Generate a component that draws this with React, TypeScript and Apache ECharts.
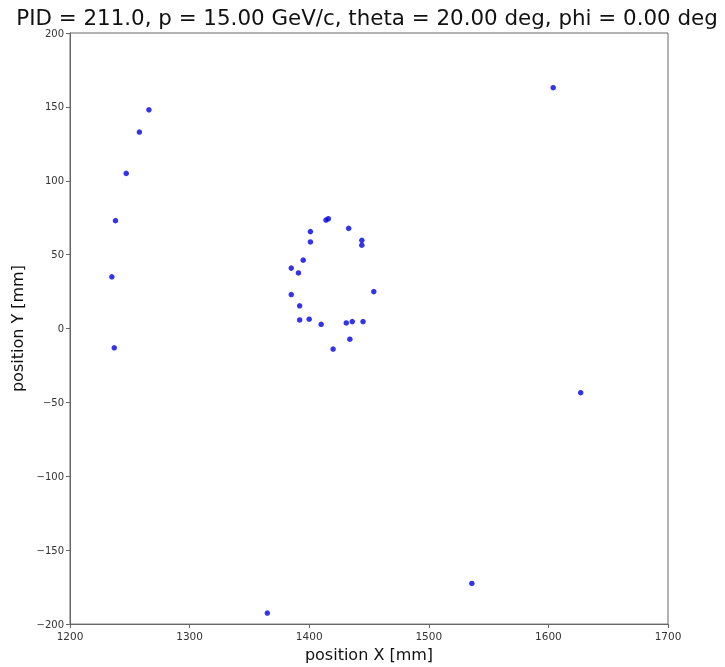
import React, { useEffect, useRef } from "react";
import * as echarts from "echarts";

const hitX = [1266, 1258, 1247, 1238, 1235, 1237,
  1414, 1416, 1433, 1401, 1401, 1444, 1444, 1395, 1385, 1391, 1454, 1385, 1392, 1392, 1400, 1410, 1431, 1436, 1445, 1434, 1420,
  1604, 1627, 1536, 1365];
const hitY = [148, 133, 105, 73, 35, -13,
  73.4, 74.3, 67.8, 65.6, 58.6, 59.7, 56.4, 46.3, 40.9, 37.6, 25, 23, 15.4, 5.8, 6.3, 2.9, 3.8, 4.7, 4.7, -7.2, -13.9,
  163, -43.4, -172.5, -192.5];

const titleText = "PID = 211.0, p = 15.00 GeV/c, theta = 20.00 deg, phi = 0.00 deg";
const xLabel = "position X [mm]";
const yLabel = "position Y [mm]";

const FONT = "DejaVu Sans";

export default function App() {
  const ref = useRef<HTMLDivElement>(null);
  useEffect(() => {
    if (!ref.current) return;
    const chart = echarts.init(ref.current, undefined, { renderer: "svg" });
    const fmt = (v: number) => String(v).replace("-", "\u2212");
    const axisCommon = {
      axisLine: { show: true, onZero: false, lineStyle: { color: "#666", width: 1 } },
      axisTick: { show: true, inside: false, length: 4, lineStyle: { color: "#666" } },
      splitLine: { show: false },
      nameTextStyle: { fontFamily: FONT, fontSize: 16, color: "#111" },
    };
    chart.setOption({
      animation: false,
      title: {
        text: titleText,
        left: 367,
        top: 10,
        padding: 0,
        textAlign: "center",
        textStyle: { fontFamily: FONT, fontSize: 21.4, lineHeight: 14, fontWeight: "normal", color: "#111" },
      },
      grid: { left: 70, right: 57, top: 33, bottom: 37, show: true, borderColor: "#666", borderWidth: 1, backgroundColor: "#fff" },
      xAxis: {
        type: "value",
        min: 1200,
        max: 1700,
        interval: 100,
        name: xLabel,
        nameLocation: "middle",
        nameGap: 20,
        ...axisCommon,
        axisLabel: { fontFamily: FONT, fontSize: 10.5, color: "#333", margin: 6, formatter: fmt },
      },
      yAxis: {
        type: "value",
        min: -200,
        max: 200,
        interval: 50,
        name: yLabel,
        nameLocation: "middle",
        nameGap: 40,
        ...axisCommon,
        axisLabel: { fontFamily: FONT, fontSize: 10, color: "#333", margin: 6, formatter: fmt },
      },
      series: [
        {
          type: "scatter",
          symbol: "circle",
          symbolSize: 5.5,
          itemStyle: { color: "#0000e6" },
          data: hitX.map((x, i) => [x, hitY[i]]),
        },
      ],
    });
    return () => chart.dispose();
  }, []);
  return <div ref={ref} style={{ position: "fixed", left: 0, top: 0, width: 725, height: 667 }} />;
}
